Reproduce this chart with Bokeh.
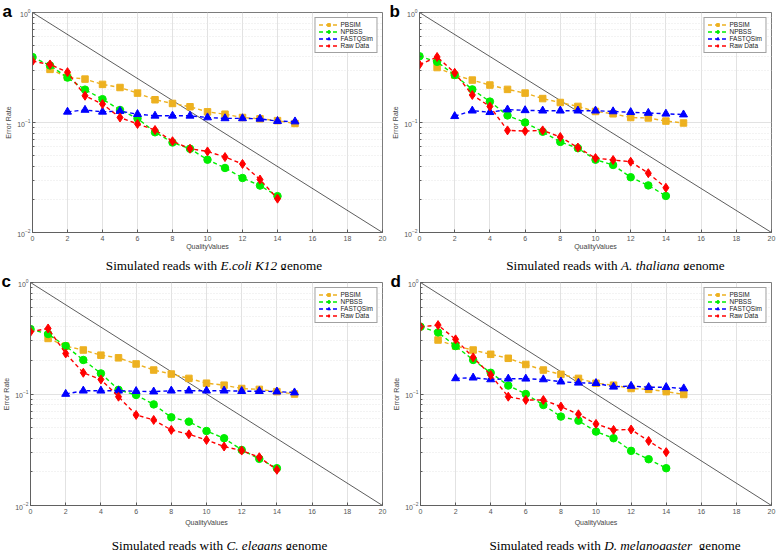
from bokeh.plotting import figure
from bokeh.models import Range1d, FixedTicker, LogTickFormatter
from bokeh.layouts import column, row
from bokeh.embed import file_html
from bokeh.resources import INLINE
from bokeh.core.properties import value

# ---------------- data ----------------
q_pbsim = list(range(1, 16))
q_npbss = list(range(0, 15))
q_fastq = list(range(2, 16))
q_raw = list(range(0, 15))

a_pbsim = [0.304, 0.259, 0.248, 0.222, 0.208, 0.185, 0.161, 0.149, 0.139, 0.125, 0.119, 0.111, 0.108, 0.104, 0.098]
a_npbss = [0.393, 0.330, 0.256, 0.199, 0.163, 0.130, 0.109, 0.0815, 0.0658, 0.0577, 0.0459, 0.0386, 0.0313, 0.0267, 0.0214]
a_fastq = [0.125, 0.130, 0.125, 0.127, 0.119, 0.115, 0.115, 0.115, 0.111, 0.109, 0.109, 0.108, 0.103, 0.102]
a_raw = [0.361, 0.337, 0.287, 0.175, 0.147, 0.111, 0.097, 0.0855, 0.0676, 0.0577, 0.0546, 0.0485, 0.042, 0.0303, 0.0203]

b_pbsim = [0.316, 0.270, 0.243, 0.219, 0.200, 0.185, 0.165, 0.152, 0.140, 0.126, 0.120, 0.111, 0.110, 0.103, 0.099]
b_npbss = [0.400, 0.356, 0.270, 0.200, 0.155, 0.116, 0.100, 0.0824, 0.0666, 0.0584, 0.0459, 0.0411, 0.0318, 0.0268, 0.0215]
b_fastq = [0.114, 0.128, 0.124, 0.131, 0.129, 0.128, 0.128, 0.128, 0.128, 0.126, 0.124, 0.122, 0.120, 0.118]
b_raw = [0.336, 0.394, 0.283, 0.178, 0.140, 0.0848, 0.0836, 0.0848, 0.0738, 0.0592, 0.0475, 0.0456, 0.044, 0.0346, 0.0255]

c_pbsim = [0.315, 0.269, 0.248, 0.223, 0.211, 0.186, 0.164, 0.151, 0.138, 0.125, 0.120, 0.112, 0.110, 0.105, 0.100]
c_npbss = [0.382, 0.345, 0.269, 0.202, 0.153, 0.109, 0.098, 0.0807, 0.0618, 0.0565, 0.0466, 0.0401, 0.0315, 0.0262, 0.0216]
c_fastq = [0.100, 0.107, 0.107, 0.107, 0.106, 0.105, 0.107, 0.107, 0.107, 0.107, 0.106, 0.106, 0.105, 0.103]
c_raw = [0.361, 0.387, 0.231, 0.155, 0.135, 0.0946, 0.0649, 0.0585, 0.0476, 0.0435, 0.0387, 0.0338, 0.0311, 0.0271, 0.0209]

d_pbsim = [0.305, 0.269, 0.248, 0.227, 0.209, 0.184, 0.164, 0.150, 0.138, 0.125, 0.120, 0.112, 0.110, 0.105, 0.099]
d_npbss = [0.401, 0.357, 0.269, 0.202, 0.155, 0.119, 0.100, 0.0797, 0.0627, 0.0577, 0.046, 0.0401, 0.0309, 0.026, 0.0216]
d_fastq = [0.138, 0.140, 0.135, 0.137, 0.137, 0.135, 0.129, 0.126, 0.125, 0.116, 0.118, 0.115, 0.115, 0.112]
d_raw = [0.401, 0.415, 0.309, 0.213, 0.148, 0.0946, 0.0883, 0.0883, 0.0771, 0.0658, 0.0539, 0.0476, 0.048, 0.0379, 0.0301]

diag_x = [0, 20]
diag_y = [1.0, 0.01]

x_ticks = [0, 2, 4, 6, 8, 10, 12, 14, 16, 18, 20]
y_ticks = [0.01, 0.1, 1.0]
y_minor = [0.02, 0.03, 0.04, 0.05, 0.06, 0.07, 0.08, 0.09,
           0.2, 0.3, 0.4, 0.5, 0.6, 0.7, 0.8, 0.9]

series_names = ["PBSIM", "NPBSS", "FASTQSim", "Raw Data"]
panel_letters = ["a", "b", "c", "d"]
caption_head = ["Simulated reads with"] * 4
species = ["E.coli K12", "A. thaliana", "C. elegans", "D. melanogaster"]
caption_tail = ["genome"] * 4

# ---------------- styling ----------------
COLORS = ["#EDB120", "#00EE00", "#0000FF", "#FF0000"]
MARKERS = ["square", "circle", "triangle", "diamond"]
MSIZE = [6.5, 7.5, 8, 9]

ROMAN = {' ': 250, 'S': 556, 'i': 278, 'm': 778, 'u': 500, 'l': 278, 'a': 444, 't': 278,
         'e': 444, 'd': 500, 'r': 333, 's': 389, 'w': 722, 'h': 500, 'g': 500, 'n': 500, 'o': 500}
ITALIC = {' ': 250, '.': 250, 'E': 611, 'c': 444, 'o': 500, 'l': 278, 'i': 278, 'K': 667, '1': 500,
          '2': 500, 'A': 611, 't': 278, 'h': 500, 'a': 500, 'n': 500, 'C': 667, 'e': 444, 'g': 500,
          's': 389, 'D': 722, 'm': 722, 'r': 389}
CAP_FS = 13.2
FIG_W = 389


def tw(s, table):
    return sum(table.get(ch, 500) for ch in s) * CAP_FS / 1000.0


def make_panel(idx, ys, left, fw, right, top, fh, bottom, letter_dx, gap2):
    p = figure(frame_width=fw, frame_height=fh, min_border_left=left, min_border_right=right,
               min_border_top=top, min_border_bottom=bottom,
               x_range=Range1d(0, 20), y_range=Range1d(0.01, 1.0), y_axis_type="log",
               output_backend="svg", toolbar_location=None,
               x_axis_label="QualityValues", y_axis_label="Error Rate")
    p.background_fill_color = "white"
    p.outline_line_color = "#5a5a5a"
    p.outline_line_width = 0.8

    # panel letter drawn as the (near zero-height) title
    p.title.text = panel_letters[idx]
    p.title.text_font = "Liberation Sans"
    p.title.text_font_style = "bold"
    p.title.text_font_size = "17px"
    p.title.text_color = "black"
    p.title.align = "left"
    p.title.offset = letter_dx
    p.title.standoff = -16.5
    p.title.vertical_align = "bottom"

    p.xaxis.ticker = FixedTicker(ticks=x_ticks, minor_ticks=[])
    p.yaxis.ticker = FixedTicker(ticks=y_ticks, minor_ticks=y_minor)
    p.yaxis.formatter = LogTickFormatter()
    p.xgrid.ticker = FixedTicker(ticks=x_ticks, minor_ticks=[])
    p.ygrid.ticker = FixedTicker(ticks=y_ticks, minor_ticks=y_minor)

    for ax in (p.xaxis[0], p.yaxis[0]):
        ax.axis_line_color = "#5a5a5a"
        ax.axis_line_width = 0.8
        ax.major_tick_in = 3
        ax.major_tick_out = 0
        ax.minor_tick_in = 2
        ax.minor_tick_out = 0
        ax.major_tick_line_color = "#5a5a5a"
        ax.minor_tick_line_color = "#5a5a5a"
        ax.major_label_text_font = "Liberation Sans"
        ax.major_label_text_font_size = "7px"
        ax.major_label_text_color = "#555555"
        ax.axis_label_text_font = "Liberation Sans"
        ax.axis_label_text_font_size = "7px"
        ax.axis_label_text_font_style = "normal"
        ax.axis_label_text_color = "#444444"
        ax.major_label_standoff = 3
    p.xaxis.axis_label_standoff = gap2
    p.yaxis.major_label_standoff = 2
    p.yaxis.axis_label_standoff = 2

    p.xgrid.grid_line_color = "#e2e2e2"
    p.ygrid.grid_line_color = "#e2e2e2"
    p.ygrid.minor_grid_line_color = "#e6e6e6"
    p.ygrid.minor_grid_line_dash = "1 2"

    p.line(diag_x, diag_y, line_color="#333333", line_width=0.8)

    xs_all = [q_pbsim, q_npbss, q_fastq, q_raw]
    for k in range(4):
        p.line(xs_all[k], ys[k], line_color=COLORS[k], line_width=1.4, line_dash="4 3",
               legend_label=series_names[k])
        p.scatter(xs_all[k], ys[k], marker=MARKERS[k], size=MSIZE[k], fill_color=COLORS[k],
                  line_color=COLORS[k], legend_label=series_names[k])

    lg = p.legend[0]
    lg.location = "top_right"
    lg.margin = 5
    lg.padding = 3
    lg.spacing = 0
    lg.glyph_width = 20
    lg.glyph_height = 7
    lg.label_height = 7
    lg.label_standoff = 2
    lg.label_text_font = "Liberation Sans"
    lg.label_text_font_size = "6.5px"
    lg.label_text_color = "#222222"
    lg.border_line_color = "#444444"
    lg.border_line_width = 0.8
    lg.background_fill_alpha = 1.0
    return p


def make_caption(idx, height, center_x, baseline_from_top):
    c = figure(frame_width=FIG_W, frame_height=height, min_border=0,
               x_range=Range1d(0, FIG_W), y_range=Range1d(0, height),
               x_axis_location=None, y_axis_location=None,
               output_backend="svg", toolbar_location=None)
    c.outline_line_color = None
    c.xgrid.visible = False
    c.ygrid.visible = False
    head = caption_head[idx]
    sp = species[idx]
    tail = caption_tail[idx]
    sep = "  " if idx == 3 else " "
    w_head = tw(head + " ", ROMAN)
    w_sp = tw(sp, ITALIC)
    total = w_head + w_sp + tw(sep + tail, ROMAN)
    x0 = center_x - total / 2.0
    yb = height - baseline_from_top
    parts = [(head, x0, "normal"), (sp, x0 + w_head, "italic"),
             (tail, x0 + w_head + w_sp + tw(sep, ROMAN), "normal")]
    for t, xx, st in parts:
        c.text(x=[xx], y=[yb], text=[t], text_font=value("Liberation Serif"),
               text_font_size=value("%.1fpx" % CAP_FS), text_font_style=value(st),
               text_color="black", text_align="left", text_baseline="alphabetic")
    return c


pa = make_panel(0, [a_pbsim, a_npbss, a_fastq, a_raw], 32, 350, 7, 12, 220, 21, -30, -1)
pb = make_panel(1, [b_pbsim, b_npbss, b_fastq, b_raw], 30, 352, 7, 12, 220, 21, -30, -1)
pc = make_panel(2, [c_pbsim, c_npbss, c_fastq, c_raw], 30, 352, 7, 12, 223, 24, -29, 2)
pd = make_panel(3, [d_pbsim, d_npbss, d_fastq, d_raw], 31, 351, 7, 12, 223, 24, -30, 2)

ca = make_caption(0, 17, 213.5, 12.0)
cb = make_caption(1, 17, 226.0, 12.0)
cc = make_caption(2, 21, 219.0, 15.8)
cd = make_caption(3, 21, 225.5, 15.8)

layout = column(row(pa, pb, spacing=0), row(ca, cb, spacing=0),
                row(pc, pd, spacing=0), row(cc, cd, spacing=0), spacing=0)

open("out.html", "w").write(file_html(layout, INLINE))
